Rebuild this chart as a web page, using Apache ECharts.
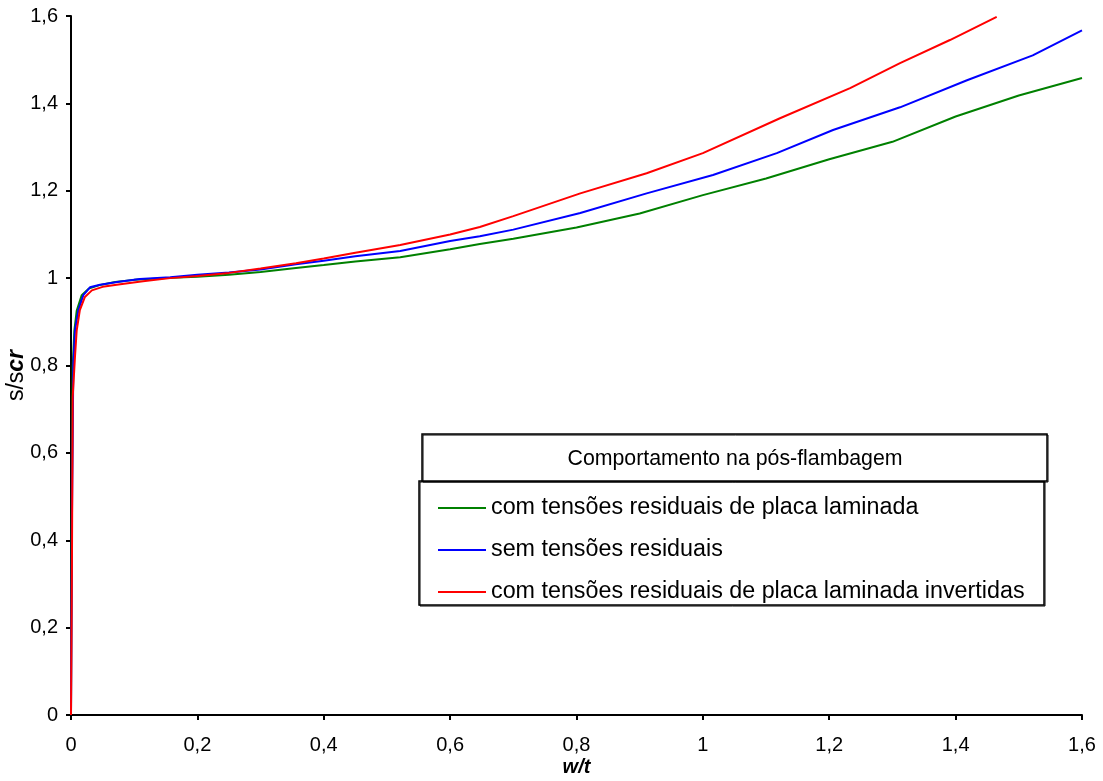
<!DOCTYPE html>
<html>
<head>
<meta charset="utf-8">
<script src="https://cdn.jsdelivr.net/npm/echarts@6/dist/echarts.min.js"></script>
<style>
html,body{margin:0;padding:0;background:#fff;}
#chart{width:1103px;height:781px;}
</style>
</head>
<body>
<div id="chart"></div>
<script>
const seriesNames = [
  'com tensões residuais de placa laminada',
  'sem tensões residuais',
  'com tensões residuais de placa laminada invertidas'
];
const greenX = [0, 0.001, 0.0027, 0.0053, 0.009, 0.017, 0.028, 0.045, 0.07, 0.1, 0.15, 0.2, 0.25, 0.3, 0.356, 0.4, 0.45, 0.521, 0.6, 0.647, 0.7, 0.8, 0.9, 1.0, 1.1, 1.2, 1.3, 1.4, 1.5, 1.6];
const greenY = [0, 0.4, 0.797, 0.88, 0.925, 0.961, 0.976, 0.984, 0.991, 0.996, 1.0, 1.003, 1.008, 1.014, 1.023, 1.03, 1.038, 1.048, 1.066, 1.078, 1.09, 1.116, 1.148, 1.19, 1.228, 1.272, 1.312, 1.37, 1.418, 1.458];
const blueX = [0, 0.0015, 0.0037, 0.0063, 0.0116, 0.0195, 0.03, 0.046, 0.073, 0.109, 0.157, 0.2, 0.25, 0.3, 0.356, 0.4, 0.45, 0.521, 0.6, 0.647, 0.7, 0.806, 0.911, 1.016, 1.117, 1.206, 1.312, 1.418, 1.522, 1.6];
const blueY = [0, 0.45, 0.805, 0.88, 0.927, 0.961, 0.979, 0.985, 0.991, 0.998, 1.002, 1.008, 1.013, 1.02, 1.032, 1.04, 1.05, 1.062, 1.085, 1.096, 1.111, 1.149, 1.194, 1.236, 1.286, 1.339, 1.391, 1.453, 1.51, 1.567];
const redX = [0, 0.0015, 0.0027, 0.0063, 0.009, 0.014, 0.022, 0.033, 0.05, 0.078, 0.114, 0.157, 0.2, 0.25, 0.3, 0.356, 0.4, 0.45, 0.521, 0.6, 0.647, 0.7, 0.806, 0.911, 1.0, 1.122, 1.233, 1.312, 1.391, 1.465];
const redY = [0, 0.35, 0.728, 0.82, 0.88, 0.927, 0.957, 0.972, 0.98, 0.986, 0.993, 1.0, 1.005, 1.012, 1.022, 1.034, 1.045, 1.058, 1.076, 1.1, 1.117, 1.142, 1.194, 1.24, 1.286, 1.366, 1.435, 1.492, 1.545, 1.598];
const colors = ['#008000', '#0000ff', '#ff0000'];
const legendTitle = 'Comportamento na pós-flambagem';

function pairs(xs, ys){ return xs.map((x,i)=>[x, ys[i]]); }
const fmt = v => String(Math.round(v*10)/10).replace('.', ',');
const FONT = '"Liberation Sans", Arial, sans-serif';

const chart = echarts.init(document.getElementById('chart'), null, {renderer:'canvas'});
chart.setOption({
  animation: false,
  backgroundColor: '#fff',
  grid: {left: 71, right: 21, top: 16, bottom: 66, containLabel: false, outerBoundsMode: 'none'},
  xAxis: {
    type: 'value', min: 0, max: 1.6, interval: 0.2,
    name: 'w/t', nameLocation: 'middle', nameGap: 42, nameMoveOverlap: false,
    nameTextStyle: {fontFamily: FONT, fontSize: 20, fontWeight: 'bold', fontStyle: 'italic', color: '#000'},
    axisLine: {show: true, onZero: false, lineStyle: {color: '#000', width: 2}},
    axisTick: {show: true, inside: false, length: 5, lineStyle: {color: '#000', width: 2}},
    axisLabel: {fontFamily: FONT, fontSize: 20, color: '#000', margin: 20, formatter: fmt},
    splitLine: {show: false}
  },
  yAxis: {
    type: 'value', min: 0, max: 1.6, interval: 0.2,
    name: '{a|s/s}{b|cr}', nameLocation: 'middle', nameGap: 43, nameRotate: 90, nameMoveOverlap: false,
    nameTextStyle: {
      fontFamily: FONT, fontSize: 23, color: '#000', padding: [0, 20, 0, 0],
      rich: {
        a: {fontFamily: FONT, fontSize: 23, color: '#000'},
        b: {fontFamily: FONT, fontSize: 23, color: '#000', fontWeight: 'bold', fontStyle: 'italic'}
      }
    },
    axisLine: {show: true, onZero: false, lineStyle: {color: '#000', width: 2}},
    axisTick: {show: true, inside: false, length: 5, lineStyle: {color: '#000', width: 2}},
    axisLabel: {fontFamily: FONT, fontSize: 20, color: '#000', margin: 13, formatter: fmt},
    splitLine: {show: false}
  },
  legend: {
    orient: 'vertical', left: 438, top: 496, padding: 0,
    itemWidth: 48, itemHeight: 2, itemGap: 18, itemTextGap: 5,
    icon: 'rect',
    textStyle: {fontFamily: FONT, fontSize: 23.3, color: '#000', lineHeight: 24},
    data: seriesNames
  },
  graphic: [
    {type: 'rect', z: 100, shape: {x: 423, y: 435, width: 625, height: 47}, style: {fill: 'none', stroke: '#000', lineWidth: 1}},
    {type: 'rect', z: 99, shape: {x: 422, y: 434, width: 625, height: 47}, style: {fill: '#fff', stroke: '#000', lineWidth: 1.5}},
    {type: 'text', z: 101, style: {text: legendTitle, x: 735, y: 459, align: 'center', verticalAlign: 'middle', font: '21.3px ' + FONT, fill: '#000'}},
    {type: 'rect', z: 0, shape: {x: 420, y: 482, width: 625, height: 124}, style: {fill: 'none', stroke: '#000', lineWidth: 1}},
    {type: 'rect', z: 0, shape: {x: 419, y: 481, width: 625, height: 124}, style: {fill: 'none', stroke: '#000', lineWidth: 1.5}}
  ],
  series: [
    {name: seriesNames[0], type: 'line', data: pairs(greenX, greenY), showSymbol: false, symbol: 'none', lineStyle: {color: colors[0], width: 2}, itemStyle: {color: colors[0]}},
    {name: seriesNames[1], type: 'line', data: pairs(blueX, blueY), showSymbol: false, symbol: 'none', lineStyle: {color: colors[1], width: 2}, itemStyle: {color: colors[1]}},
    {name: seriesNames[2], type: 'line', data: pairs(redX, redY), showSymbol: false, symbol: 'none', lineStyle: {color: colors[2], width: 2}, itemStyle: {color: colors[2]}}
  ]
});
</script>
</body>
</html>
